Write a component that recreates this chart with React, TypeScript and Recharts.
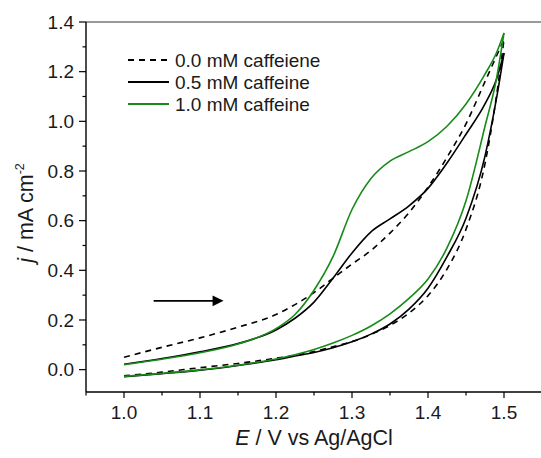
import { LineChart, Line, XAxis, YAxis, ReferenceLine, Legend } from "recharts";

// potential grid (V vs Ag/AgCl)
const potential = [1.0, 1.05, 1.1, 1.15, 1.2, 1.225, 1.25, 1.275, 1.3, 1.325, 1.35, 1.375, 1.4, 1.425, 1.45, 1.475, 1.49, 1.5];

// current density, mA cm-2 (forward = anodic sweep, reverse = return sweep)
const fwd00 = [0.05, 0.09, 0.128, 0.171, 0.222, 0.262, 0.31, 0.368, 0.425, 0.48, 0.55, 0.632, 0.735, 0.855, 0.99, 1.16, 1.262, 1.33];
const rev00 = [-0.025, -0.01, 0.008, 0.025, 0.046, 0.058, 0.073, 0.092, 0.113, 0.142, 0.178, 0.228, 0.298, 0.405, 0.565, 0.83, 1.1, 1.33];
const fwd05 = [0.022, 0.045, 0.072, 0.105, 0.16, 0.207, 0.272, 0.368, 0.47, 0.555, 0.607, 0.66, 0.73, 0.832, 0.948, 1.07, 1.168, 1.275];
const rev05 = [-0.028, -0.016, -0.002, 0.017, 0.04, 0.055, 0.069, 0.088, 0.112, 0.143, 0.184, 0.244, 0.328, 0.455, 0.61, 0.86, 1.09, 1.275];
const fwd10 = [0.02, 0.042, 0.068, 0.103, 0.165, 0.222, 0.32, 0.455, 0.645, 0.77, 0.84, 0.878, 0.918, 0.98, 1.07, 1.19, 1.275, 1.356];
const rev10 = [-0.027, -0.015, -0.001, 0.018, 0.043, 0.06, 0.081, 0.107, 0.138, 0.176, 0.225, 0.287, 0.365, 0.49, 0.68, 0.98, 1.17, 1.356];

const seriesLabels = ["0.0 mM caffeiene", "0.5 mM caffeine", "1.0 mM caffeine"];
const seriesColors = ["#000000", "#000000", "#178a17"];
const seriesDash = ["6 5", "", ""];

const xTicks = [0.95, 1.0, 1.05, 1.1, 1.15, 1.2, 1.25, 1.3, 1.35, 1.4, 1.45, 1.5, 1.55];
const yTicks = [0, 0.1, 0.2, 0.3, 0.4, 0.5, 0.6, 0.7, 0.8, 0.9, 1.0, 1.1, 1.2, 1.3, 1.4];

const arrowX = [1.039, 1.131];
const arrowY = 0.277;

const data = potential.map((E, i) => ({
  E,
  f00: fwd00[i],
  r00: rev00[i],
  f05: fwd05[i],
  r05: rev05[i],
  f10: fwd10[i],
  r10: rev10[i],
}));

const FONT = "'Liberation Sans', Arial, sans-serif";

function YTick(props: any) {
  const { x, y, payload } = props;
  const v = payload.value as number;
  const major = Math.round(v * 10) % 2 === 0;
  const ax = x + 12;
  return (
    <g>
      <line x1={ax - (major ? 7 : 3.5)} x2={ax} y1={y} y2={y} stroke="#000" strokeWidth={1.2} />
      {major && (
        <text x={x} y={y} dy={6.8} textAnchor="end" fontSize={19} fontFamily={FONT} fill="#1a1a1a">
          {v.toFixed(1)}
        </text>
      )}
    </g>
  );
}

function XTick(props: any) {
  const { x, y, payload } = props;
  const v = payload.value as number;
  const major = Math.round(v * 100) % 10 === 0;
  return (
    <g>
      <line x1={x} x2={x} y1={y} y2={y + (major ? 6 : 3.5)} stroke="#000" strokeWidth={1.2} />
      {major && (
        <text x={x} y={y + 27.3} textAnchor="middle" fontSize={19} fontFamily={FONT} fill="#1a1a1a">
          {v.toFixed(1)}
        </text>
      )}
    </g>
  );
}

function XTitle() {
  return (
    <text x={314} y={445} textAnchor="middle" fontSize={21.5} fontFamily={FONT} fill="#1a1a1a">
      <tspan fontStyle="italic">E</tspan> / V vs Ag/AgCl
    </text>
  );
}

function YTitle() {
  return (
    <text
      x={33}
      y={213}
      transform="rotate(-90 33 213)"
      textAnchor="middle"
      fontSize={21.5}
      fontFamily={FONT}
      fill="#1a1a1a"
    >
      <tspan fontStyle="italic">j</tspan> / mA cm
      <tspan fontSize={12.5} dy={-9.5}>-2</tspan>
    </text>
  );
}

function Arrow(props: any) {
  const { x1, y1, x2 } = props;
  return (
    <g>
      <line x1={x1} y1={y1} x2={x2 - 10} y2={y1} stroke="#000" strokeWidth={1.6} />
      <polygon points={`${x2 - 11},${y1 - 5.3} ${x2},${y1} ${x2 - 11},${y1 + 5.3}`} fill="#000" />
    </g>
  );
}

function LegendBox() {
  return (
    <svg width={340} height={120} style={{ display: "block" }}>
      {seriesLabels.map((label, i) => {
        const y = 60 + i * 22;
        return (
          <g key={label}>
            <line
              x1={128}
              x2={169}
              y1={y}
              y2={y}
              stroke={seriesColors[i]}
              strokeWidth={1.8}
              strokeDasharray={seriesDash[i] || undefined}
            />
            <text x={175} y={y + 6.8} fontSize={19} fontFamily={FONT} fill="#1a1a1a">
              {label}
            </text>
          </g>
        );
      })}
    </svg>
  );
}

export default function App() {
  const lines = [
    { key: "f00", i: 0 },
    { key: "r00", i: 0 },
    { key: "f05", i: 1 },
    { key: "r05", i: 1 },
    { key: "f10", i: 2 },
    { key: "r10", i: 2 },
  ];
  return (
    <div style={{ position: "absolute", left: 0, top: 0, width: 541, height: 458, overflow: "hidden", background: "#fff" }}>
      <LineChart width={560} height={458} data={data} margin={{ top: 22, right: 18, bottom: 0, left: 0 }}>
        <XAxis
          dataKey="E"
          type="number"
          domain={[0.95, 1.55]}
          ticks={xTicks}
          interval={0}
          tickSize={0}
          tickMargin={0}
          tickLine={false}
          tick={<XTick />}
          height={66}
          axisLine={{ stroke: "#000", strokeWidth: 1.4 }}
          label={<XTitle />}
        />
        <YAxis
          type="number"
          domain={[-0.09, 1.4]}
          ticks={yTicks}
          interval={0}
          tickSize={0}
          tickMargin={12}
          tickLine={false}
          tick={<YTick />}
          width={86}
          axisLine={{ stroke: "#000", strokeWidth: 1.4 }}
          label={<YTitle />}
        />
        <ReferenceLine y={1.4} stroke="#777" strokeWidth={1.3} ifOverflow="visible" />
        <ReferenceLine
          segment={[
            { x: arrowX[0], y: arrowY },
            { x: arrowX[1], y: arrowY },
          ]}
          shape={(p: any) => <Arrow {...p} />}
        />
        {lines.map((l) => (
          <Line
            key={l.key}
            dataKey={l.key}
            type="monotone"
            stroke={seriesColors[l.i]}
            strokeWidth={1.6}
            strokeDasharray={seriesDash[l.i] || undefined}
            dot={false}
            activeDot={false}
            legendType="none"
            isAnimationActive={false}
          />
        ))}
        <Legend
          layout="vertical"
          align="center"
          verticalAlign="middle"
          wrapperStyle={{ left: 0, top: 0, width: 340, height: 120 }}
          content={() => <LegendBox />}
        />
      </LineChart>
    </div>
  );
}
